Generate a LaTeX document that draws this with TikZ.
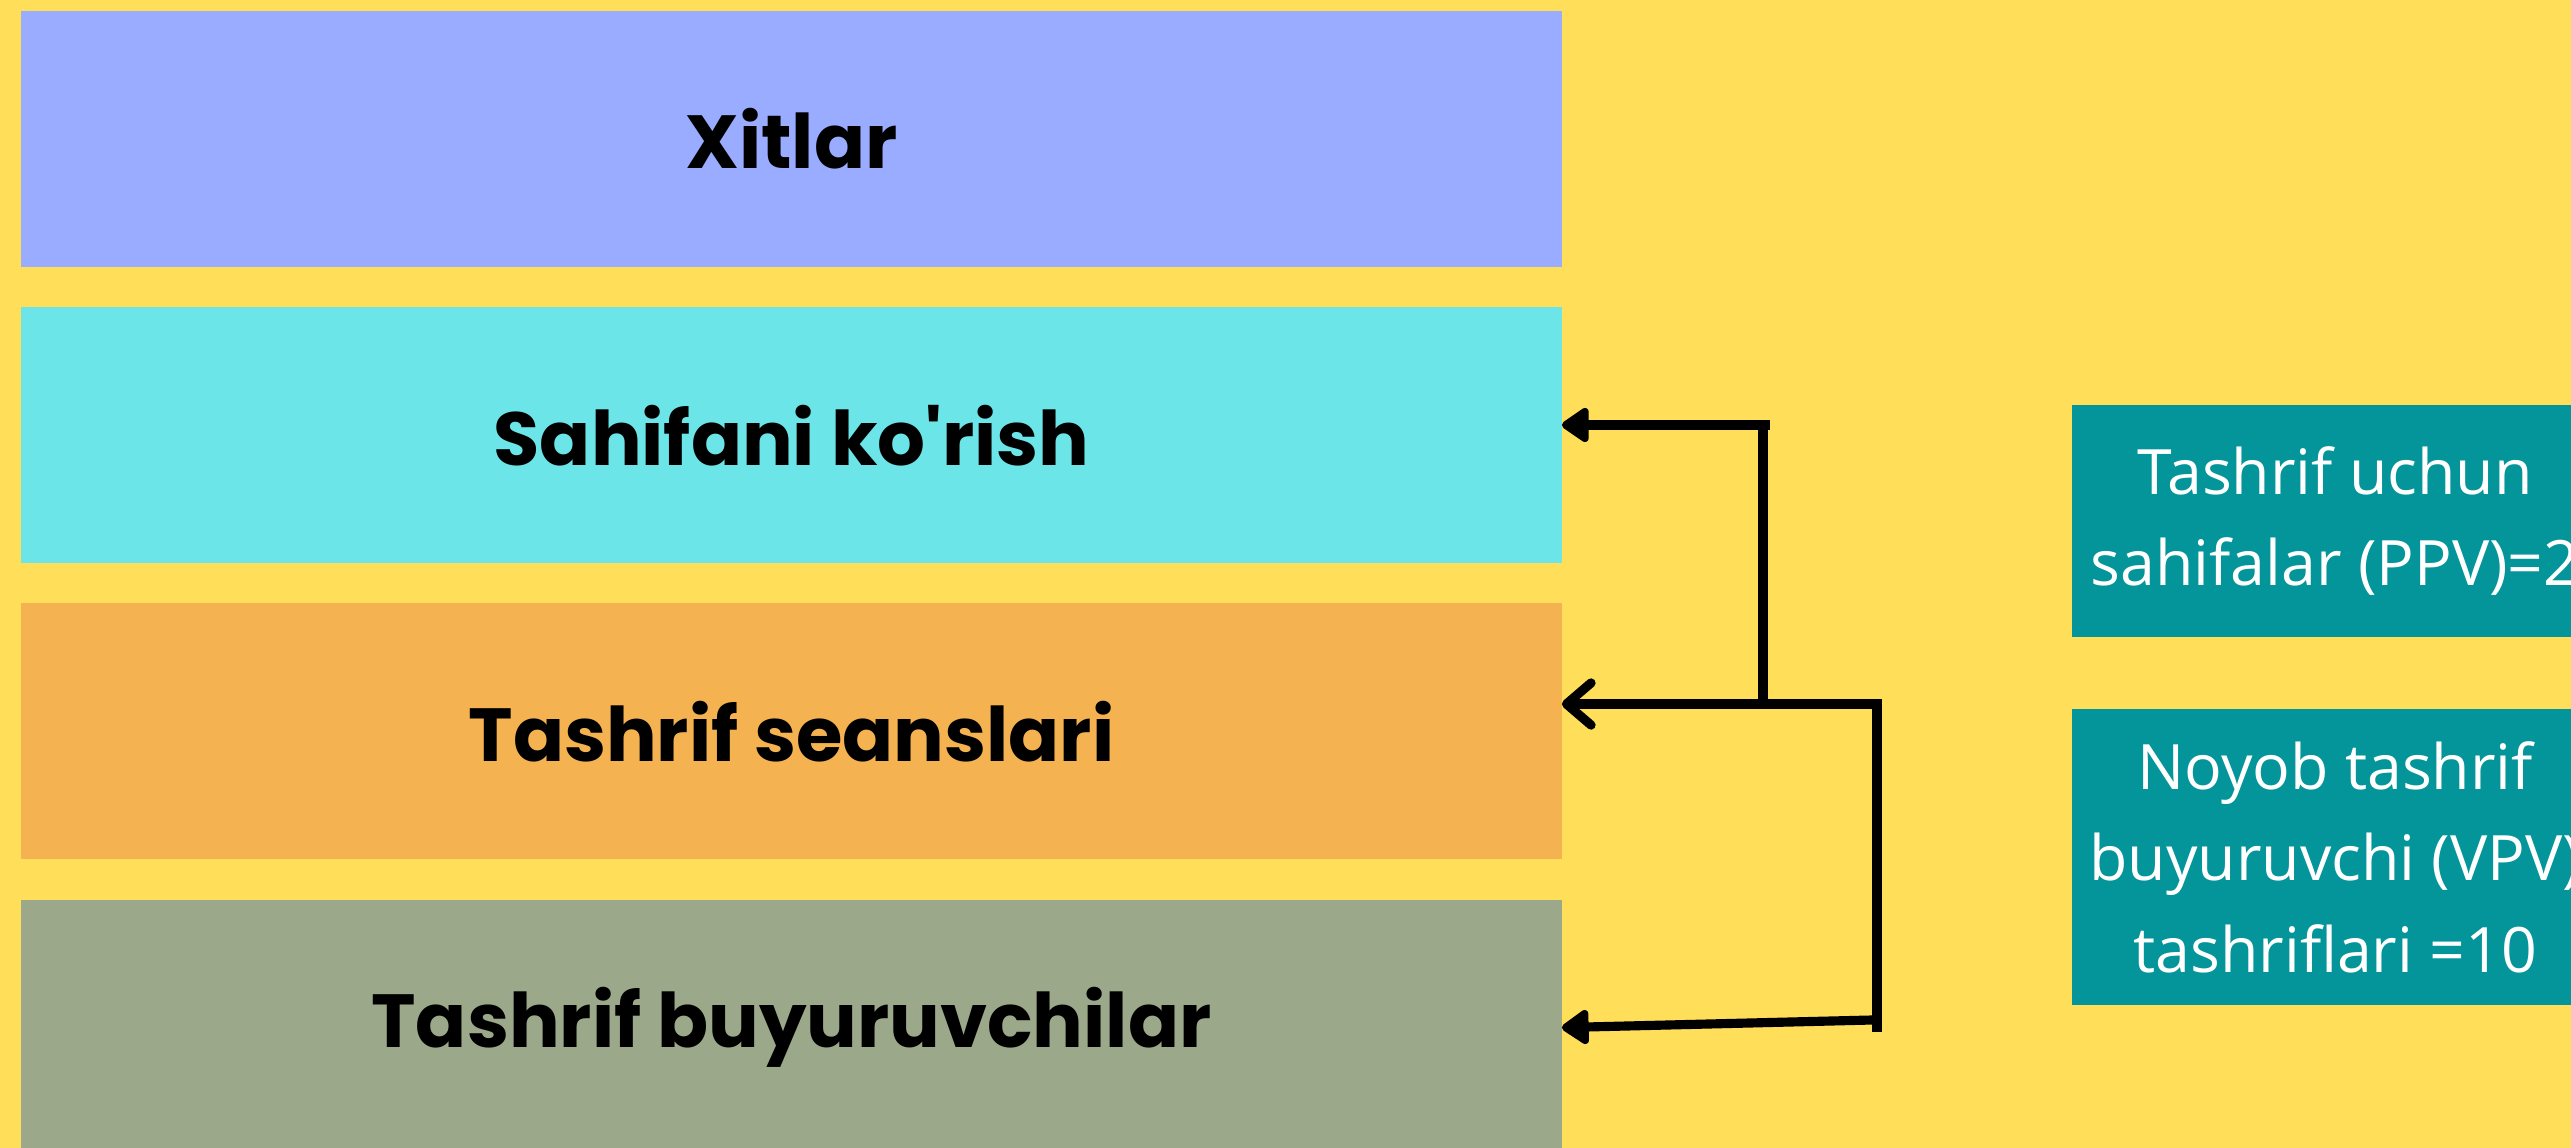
\documentclass[tikz,border=0pt]{standalone}
\usepackage{fontspec}
\usepackage{tikz}
\usetikzlibrary{arrows.meta, positioning, calc}
\setmainfont{Open Sans}
\newfontfamily\headfont{Poppins}
\definecolor{BgYellow}{HTML}{FFDE59}
\definecolor{HitsBlue}{HTML}{99ACFF}
\definecolor{ViewCyan}{HTML}{6CE5E8}
\definecolor{SessOrange}{HTML}{F4B350}
\definecolor{VisitGreen}{HTML}{9CA88A}
\definecolor{MetricTeal}{HTML}{03959A}

\begin{document}
\begin{tikzpicture}[x=0.01cm, y=-0.01cm,
                    layer/.style={rectangle, minimum width=15.4cm, minimum height=2.56cm, inner sep=0pt, outer sep=0pt, font=\headfont\bfseries\fontsize{21.4}{26}\selectfont},
                    metric/.style={rectangle, fill=MetricTeal, text=white, minimum width=5.26cm, inner sep=0pt, outer sep=0pt, align=center, font=\fontsize{17.8}{26}\selectfont},
                    conn/.style={line width=2.6pt, black}
                ]
                    \fill[BgYellow] (0,0) rectangle (2571,1148);
                    \useasboundingbox (0,0) rectangle (2571,1148);

                    \node[layer, fill=HitsBlue, anchor=north west] (hits) at (21,11) {Xitlar};
                    \node[layer, fill=ViewCyan, below=0.4cm of hits] (view) {Sahifani ko\textquotesingle rish};
                    \node[layer, fill=SessOrange, below=0.4cm of view] (sess) {Tashrif seanslari};
                    \node[layer, fill=VisitGreen, below=0.4cm of sess] (visit) {Tashrif buyuruvchilar};

                    \node[metric, minimum height=2.32cm, anchor=north west] (ppv) at (2072,405) {Tashrif uchun\\sahifalar (PPV)=2};
                    \node[metric, minimum height=2.96cm, below=0.72cm of ppv] (vpv) {Noyob tashrif\\buyuruvchi (VPV)\\tashriflari =10};

                    \coordinate (jtop) at (1770,425);
                    \coordinate (jmid) at (1763,704);
                    \coordinate (rtop) at (1877,699);
                    \coordinate (rbot) at (1877,1032);
                    \coordinate (rend) at (1872,1020);

                    \draw[conn, -{Triangle[round, length=8.5pt, width=11pt]}] (jtop) -- (view.east |- jtop);
                    \draw[conn] (jmid |- jtop) -- (jmid);
                    \draw[conn, -{Straight Barb[round, length=7pt, width=12pt]}] (rtop |- jmid) -- (sess.east |- jmid);
                    \draw[conn] (rtop) -- (rbot);
                    \draw[conn, -{Triangle[round, length=8.5pt, width=11pt]}] (rend) -- (visit.east);
                \end{tikzpicture}
\end{document}
